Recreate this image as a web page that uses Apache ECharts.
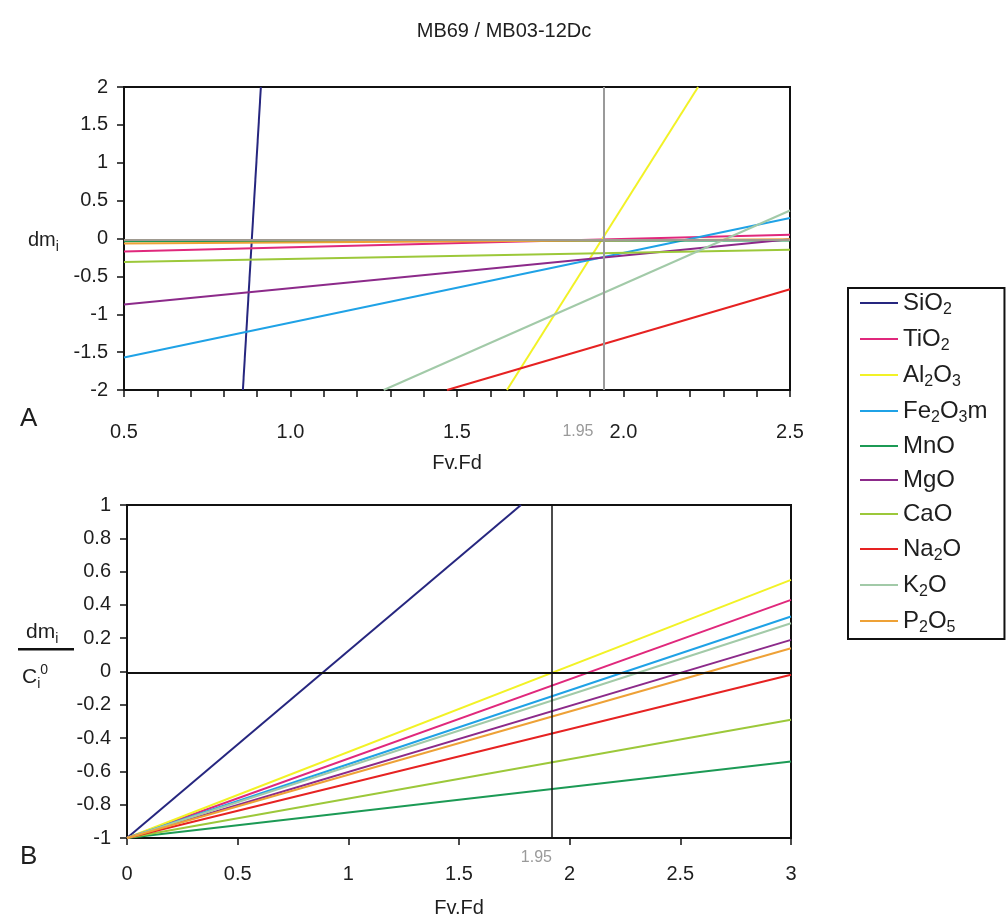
<!DOCTYPE html>
<html><head><meta charset="utf-8">
<script src="https://cdn.jsdelivr.net/npm/echarts@6/dist/echarts.min.js"></script>
<style>html,body{margin:0;padding:0;background:#fff}#c{width:1008px;height:924px}</style>
</head><body><div id="c"></div><script>
// ---- data ----
const oxides = ['SiO2','TiO2','Al2O3','Fe2O3m','MnO','MgO','CaO','Na2O','K2O','P2O5'];
const oxideLabels = ['SiO{s|2}','TiO{s|2}','Al{s|2}O{s|3}','Fe{s|2}O{s|3}m','MnO','MgO','CaO','Na{s|2}O','K{s|2}O','P{s|2}O{s|5}'];
const colors = ['#26267f','#e0287c','#f2f226','#1fa2e6','#1c9a55','#8c2a8a','#9cc83a','#e62222','#a2caa8','#eea136'];
// Panel A: dm_i vs Fv.Fd, line start and end points [x, y]
const panelAStart = [[0.857,-2],[0.5,-0.17],[1.65,-2],[0.5,-1.57],[0.5,-0.035],[0.5,-0.87],[0.5,-0.31],[1.47,-2],[1.28,-2],[0.5,-0.065]];
const panelAEnd   = [[0.911,2],[2.5,0.05],[2.224,2],[2.5,0.27],[2.5,-0.025],[2.5,-0.01],[2.5,-0.15],[2.5,-0.67],[2.5,0.37],[2.5,-0.01]];
// Panel B: dm_i / C_i^0 vs Fv.Fd
const panelBStart = [[0,-1],[0,-1],[0,-1],[0,-1],[0,-1],[0,-1],[0,-1],[0,-1],[0,-1],[0,-1]];
const panelBEnd   = [[1.78,1],[3,0.43],[3,0.55],[3,0.33],[3,-0.54],[3,0.19],[3,-0.29],[3,-0.02],[3,0.29],[3,0.14]];
const xTickLabelsA = ['0.5','1.0','1.5','2.0','2.5'];
const refLineA = 1.94, refLineB = 1.92, refLabel = '1.95';
const zeroLineA = -0.02, zeroLineB = -0.015;

const FONT = 'Liberation Sans, Arial, Helvetica, sans-serif';
const TXT = '#1e1e1e';
const chart = echarts.init(document.getElementById('c'), null, {renderer:'canvas'});

const axisLine = {show:true, onZero:false, lineStyle:{color:'#111', width:2}};
const axisTick = {show:true, inside:false, length:7, lineStyle:{color:'#111', width:1.5}};
const lbl = {color:TXT, fontSize:20, fontFamily:FONT};

const series = [];
oxides.forEach((n,i)=>{
  series.push({name:n, type:'line', xAxisIndex:0, yAxisIndex:0, symbol:'none', clip:true, z:3,
    lineStyle:{color:colors[i], width:2}, itemStyle:{color:colors[i]},
    data:[panelAStart[i], panelAEnd[i]]});
});
oxides.forEach((n,i)=>{
  series.push({name:n, type:'line', xAxisIndex:1, yAxisIndex:1, symbol:'none', clip:true, z:3,
    lineStyle:{color:colors[i], width:2}, itemStyle:{color:colors[i]},
    data:[panelBStart[i], panelBEnd[i]]});
});
series.push({name:'refA', type:'line', xAxisIndex:0, yAxisIndex:0, data:[], z:2,
  markLine:{silent:true, symbol:'none', label:{show:false},
    data:[{xAxis:refLineA, lineStyle:{color:'#9a9a9a', width:2, type:'solid'}},
          {yAxis:zeroLineA, lineStyle:{color:'#a09a90', width:2, type:'solid'}}]}});
series.push({name:'refB', type:'line', xAxisIndex:1, yAxisIndex:1, data:[], z:2,
  markLine:{silent:true, symbol:'none', label:{show:false},
    data:[{xAxis:refLineB, lineStyle:{color:'#111', width:1.5, type:'solid'}},
          {yAxis:zeroLineB, lineStyle:{color:'#111', width:2, type:'solid'}}]}});

const option = {
  animation:false,
  backgroundColor:'#fff',
  textStyle:{fontFamily:FONT},
  title:{text:'MB69 / MB03-12Dc', left:'center', top:16, textStyle:{fontSize:20, fontWeight:'normal', color:TXT, fontFamily:FONT}},
  legend:{
    data:oxides, orient:'vertical', left:848, top:288,
    padding:[0,17,3,12], itemGap:6, itemWidth:38, itemHeight:14,
    borderColor:'#111', borderWidth:2, selectedMode:false,
    icon:'path://M0,6 L38,6 L38,8 L0,8 Z',
    formatter:(name)=>oxideLabels[oxides.indexOf(name)],
    textStyle:{fontSize:24, color:TXT, fontFamily:FONT, lineHeight:28,
      rich:{s:{fontSize:16, lineHeight:14, padding:[14,0,0,0], color:TXT, fontFamily:FONT}}}
  },
  grid:[
    {left:124, top:87, width:666, height:303, show:true, borderColor:'#111', borderWidth:2, backgroundColor:'transparent'},
    {left:127, top:505, width:664, height:333, show:true, borderColor:'#111', borderWidth:2, backgroundColor:'transparent'}
  ],
  xAxis:[
    {type:'value', gridIndex:0, min:0.5, max:2.5, interval:0.1, axisLine, axisTick,
      splitLine:{show:false},
      axisLabel:{...lbl, margin:32, showMinLabel:true, showMaxLabel:true,
        formatter:(v)=>{const k=Math.round(v*10); return (k%5===0)? xTickLabelsA[(k-5)/5] : '';}},
      name:'Fv.Fd', nameLocation:'middle', nameGap:63, nameTextStyle:{...lbl}},
    {type:'value', gridIndex:1, min:0, max:3, interval:0.5, axisLine, axisTick,
      splitLine:{show:false},
      axisLabel:{...lbl, margin:26},
      name:'Fv.Fd', nameLocation:'middle', nameGap:60, nameTextStyle:{...lbl}},
    {type:'value', gridIndex:0, position:'bottom', min:0.5, max:2.5, axisLine:{show:false, onZero:false}, axisTick:{show:false}, splitLine:{show:false},
      axisLabel:{customValues:[refLineA], formatter:()=>refLabel, color:'#9a9a9a', fontSize:16, fontFamily:FONT, margin:34, align:'right', padding:[0,10,0,0]}},
    {type:'value', gridIndex:1, position:'bottom', min:0, max:3, axisLine:{show:false, onZero:false}, axisTick:{show:false}, splitLine:{show:false},
      axisLabel:{customValues:[refLineB], formatter:()=>refLabel, color:'#9a9a9a', fontSize:16, fontFamily:FONT, margin:12, align:'right', padding:[0,0,0,0]}}
  ],
  yAxis:[
    {type:'value', gridIndex:0, min:-2, max:2, interval:0.5, axisLine, axisTick, splitLine:{show:false},
      axisLabel:{...lbl, margin:16}},
    {type:'value', gridIndex:1, min:-1, max:1, interval:0.2, axisLine, axisTick, splitLine:{show:false},
      axisLabel:{...lbl, margin:16}}
  ],
  graphic:[
    {type:'text', left:28, top:226, style:{text:'dm{s|i}', font:'20px '+FONT, fill:TXT,
      rich:{s:{fontSize:14, lineHeight:14, padding:[14,0,0,0], fill:TXT, fontFamily:FONT}}}},
    {type:'text', left:20, top:406, style:{text:'A', font:'26px '+FONT, fill:TXT}},
    {type:'text', left:20, top:844, style:{text:'B', font:'26px '+FONT, fill:TXT}},
    {type:'text', left:26, top:618, style:{text:'dm{s|i}', font:'21px '+FONT, fill:TXT,
      rich:{s:{fontSize:14, lineHeight:14, padding:[14,0,0,0], fill:TXT, fontFamily:FONT}}}},
    {type:'rect', left:18, top:648, shape:{width:56, height:2.5}, style:{fill:'#111'}},
    {type:'text', left:22, top:663, style:{text:'C{s|i}{p|0}', font:'21px '+FONT, fill:TXT,
      rich:{s:{fontSize:14, lineHeight:14, padding:[14,0,0,0], fill:TXT, fontFamily:FONT},
            p:{fontSize:14, lineHeight:14, padding:[0,0,14,0], fill:TXT, fontFamily:FONT}}}}
  ],
  series
};
chart.setOption(option);
</script></body></html>
